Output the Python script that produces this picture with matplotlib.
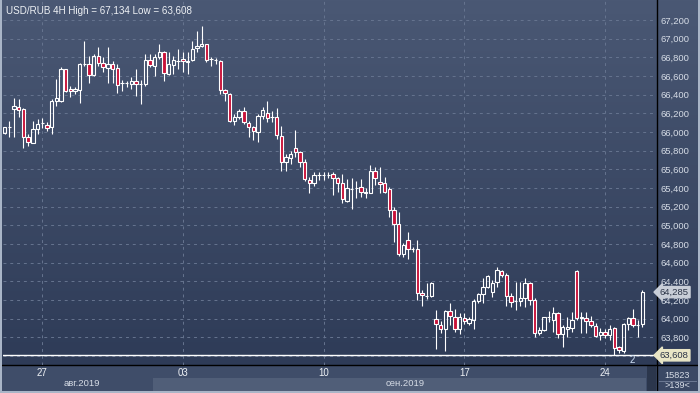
import numpy as np
import matplotlib
matplotlib.use("Agg")
import matplotlib.pyplot as plt
import matplotlib.colors as mcolors
import matplotlib.transforms as mtransforms
from matplotlib.patches import Rectangle
from matplotlib.ticker import FuncFormatter

# USD/RUB 4H candles
opens = [65993, 66050, 66243, 66265, 66247, 65943, 65882, 66032, 66093, 66075,
         66050, 66329, 66336, 66675, 66461, 66443, 66454, 66729, 66729, 66611,
         66818, 66740, 66686, 66729, 66686, 66522, 66525, 66515, 66550, 66515,
         66515, 66772, 66711, 66800, 66854, 66622, 66722, 66765, 66779, 66747,
         66772, 66900, 66922, 66943, 66779, 66768, 66765, 66450, 66407, 66122,
         66165, 66229, 66097, 66057, 65997, 66175, 66200, 66157, 66157, 65961,
         65675, 65722, 65825, 65782, 65682, 65486, 65454, 65543, 65543, 65543,
         65546, 65503, 65450, 65264, 65393, 65396, 65407, 65343, 65343, 65585,
         65460, 65450, 65385, 65164, 65010, 64689, 64843, 64743, 64743, 64271,
         64246, 64243, 63993, 63932, 63885, 64082, 64014, 63885, 64011, 63950,
         63985, 64189, 64260, 64335, 64289, 64389, 64511, 64464, 64243, 64193,
         64189, 64218, 64379, 64200, 63843, 63879, 64014, 63986, 64064, 63836,
         63886, 63897, 64514, 64004, 64011, 63975, 63922, 63825, 63861, 63825,
         63897, 63693, 63657, 63940, 64011, 63932, 63943]
highs = [66057, 66122, 66365, 66354, 66257, 65979, 66122, 66136, 66150, 66104,
         66354, 66568, 66700, 66675, 66497, 66486, 66736, 66979, 66818, 66836,
         66907, 66800, 66915, 66765, 66729, 66557, 66550, 66586, 66675, 66557,
         66836, 66836, 66836, 66943, 66872, 66854, 66818, 66890, 66854, 66854,
         66979, 67086, 67134, 66943, 66800, 66793, 66772, 66461, 66415, 66193,
         66247, 66265, 66122, 66068, 66193, 66272, 66329, 66229, 66257, 66068,
         65765, 65800, 66025, 65800, 65711, 65515, 65568, 65568, 65568, 65575,
         65575, 65521, 65550, 65493, 65503, 65478, 65493, 65396, 65646, 65621,
         65621, 65521, 65414, 65200, 65146, 64807, 64932, 64771, 64843, 64307,
         64378, 64396, 64093, 63978, 64093, 64171, 64100, 64057, 64057, 64021,
         64207, 64278, 64439, 64468, 64414, 64550, 64522, 64486, 64272, 64397,
         64397, 64432, 64397, 64218, 63907, 64022, 64086, 64129, 64075, 63932,
         64022, 64075, 64522, 64075, 64075, 64029, 63957, 63897, 63886, 63932,
         63907, 63707, 63950, 64022, 64100, 63986, 64307]
lows = [65979, 65943, 65943, 66157, 65829, 65854, 65879, 65979, 66043, 66015,
        65979, 66282, 66318, 66425, 66379, 66407, 66307, 66711, 66522, 66604,
        66711, 66640, 66522, 66522, 66415, 66443, 66479, 66461, 66390, 66300,
        66497, 66693, 66604, 66782, 66550, 66615, 66622, 66675, 66640, 66622,
        66757, 66854, 66907, 66747, 66711, 66729, 66407, 66336, 66104, 66079,
        66140, 66086, 65943, 65915, 65890, 66140, 66104, 66104, 65925, 65586,
        65586, 65657, 65729, 65622, 65479, 65343, 65425, 65486, 65486, 65507,
        65325, 65360, 65243, 65253, 65171, 65289, 65307, 65289, 65343, 65432,
        65343, 65343, 65085, 64825, 64671, 64664, 64635, 64718, 64200, 64139,
        64207, 64235, 63671, 63843, 63657, 63932, 63860, 63835, 63943, 63932,
        63889, 64164, 64164, 64325, 64235, 64343, 64450, 64136, 64129, 64093,
        64136, 64129, 64147, 63807, 63825, 63872, 63968, 63861, 63790, 63700,
        63807, 63861, 63986, 63843, 63843, 63907, 63800, 63772, 63790, 63772,
        63608, 63629, 63636, 63879, 63907, 63807, 63907]
closes = [66050, 66050, 66279, 66236, 65943, 65890, 66032, 66086, 66093, 66040,
          66336, 66361, 66675, 66443, 66436, 66461, 66729, 66729, 66615, 66818,
          66740, 66693, 66729, 66675, 66507, 66522, 66525, 66550, 66515, 66515,
          66772, 66722, 66807, 66854, 66629, 66729, 66772, 66765, 66757, 66765,
          66890, 66922, 66943, 66772, 66779, 66768, 66450, 66415, 66122, 66157,
          66229, 66104, 66057, 66007, 66175, 66236, 66150, 66157, 65972, 65682,
          65729, 65765, 65790, 65682, 65497, 65454, 65543, 65543, 65543, 65543,
          65503, 65450, 65278, 65396, 65393, 65396, 65357, 65357, 65585, 65503,
          65443, 65360, 65164, 65010, 64689, 64789, 64743, 64743, 64271, 64250,
          64246, 64378, 63939, 63885, 64082, 64028, 63885, 64014, 63978, 63993,
          64193, 64264, 64335, 64457, 64385, 64521, 64464, 64243, 64182, 64193,
          64218, 64379, 64200, 63843, 63879, 64014, 64014, 64057, 63836, 63907,
          63907, 63986, 64004, 64022, 63975, 63932, 63818, 63861, 63825, 63886,
          63682, 63665, 63940, 64004, 63932, 63932, 64285]

week_ticks = [8, 38, 68, 98, 128]
week_labels = ["27", "03", "10", "17", "24"]
month_labels = ["авг.2019", "сен.2019"]
price_ticks = list(range(63800, 67201, 200))   # 63,600 sits under the low tag
last_price = 64285
low_price = 63608
high_price = 67134
bars_total = 15823
bars_shown = 139

W, H = 700, 393
PLOT_BG_TOP = "#4a5874"
PLOT_BG_BOT = "#2c3955"
BEAR = "#c8123a"
GRID = "#66748f"
TXT = "#d6dce6"
FONT = "Liberation Sans"
sep_start = 31.6   # first bar of September

fig = plt.figure(figsize=(W / 100, H / 100), dpi=100)

# background layer in pixel coordinates (y up)
bg = fig.add_axes([0, 0, 1, 1], zorder=0)
bg.set_xlim(0, W)
bg.set_ylim(0, H)
bg.axis("off")
t = np.linspace(0, 1, 256)[:, None, None]
c_top = np.array(mcolors.to_rgb(PLOT_BG_TOP))
c_bot = np.array(mcolors.to_rgb(PLOT_BG_BOT))
bg.imshow(c_top * (1 - t) + c_bot * t, extent=[0, W, 0, H], aspect="auto", origin="upper")

# main price panel
ax = fig.add_axes([3 / W, 28 / H, 653 / W, 364 / H], zorder=1)
ax.set_facecolor("none")
n = len(opens)
x = np.arange(n)
o = np.array(opens, dtype=float)
h = np.array(highs, dtype=float)
l = np.array(lows, dtype=float)
c = np.array(closes, dtype=float)
up = c >= o
lo = np.minimum(o, c)
hi = np.maximum(o, c)

ax.vlines(x, hi, h, color="white", lw=0.8, zorder=3)
ax.vlines(x, l, lo, color="white", lw=0.8, zorder=3)
ax.bar(x[up], (hi - lo)[up], bottom=lo[up], width=0.72, facecolor="none",
       edgecolor="white", linewidth=0.8, zorder=4)
ax.bar(x[~up], (hi - lo)[~up], bottom=lo[~up], width=0.72, facecolor=BEAR,
       edgecolor="white", linewidth=0.8, zorder=4)

ax.axhline(low_price, color="white", lw=1.0, zorder=5)

ax.set_xlim(-0.36, 138.9)
ax.set_ylim(63504, 67404)
ax.set_yticks(price_ticks)
ax.yaxis.set_major_formatter(FuncFormatter(lambda v, p: f"{v:,.0f}"))
ax.yaxis.tick_right()
ax.set_xticks(week_ticks, week_labels)
ax.tick_params(axis="y", length=0, pad=3, labelsize=6.8, labelcolor=TXT)
ax.tick_params(axis="x", length=0, pad=2.5, labelsize=7, labelcolor="#eef1f5")
for lab in ax.get_xticklabels() + ax.get_yticklabels():
    lab.set_fontfamily(FONT)
ax.grid(True, color=GRID, linestyle=(0, (3, 4)), linewidth=0.7, zorder=1)
ax.axhline(63600, color=GRID, linestyle=(0, (3, 4)), linewidth=0.7, zorder=1)
for s in ax.spines.values():
    s.set_visible(False)

ax.text(0.004, 0.972, f"USD/RUB 4H High = {high_price:,} Low = {low_price:,}",
        transform=ax.transAxes, fontsize=7.1, color="#eef1f5", family=FONT,
        va="center", ha="left", zorder=6)
ax.text(133.8, 63560, "2", fontsize=7, color="#cfe0f5", family=FONT,
        va="center", ha="center", zorder=6)

# price tags on the right axis
tag_tr = mtransforms.blended_transform_factory(ax.transAxes, ax.transData)
ax.text(1.006, last_price, f"{last_price:,}", transform=tag_tr, fontsize=6.8,
        family=FONT, color="#2a3346", va="center", ha="left", zorder=7, clip_on=False,
        bbox=dict(boxstyle="larrow,pad=0.12", fc="#c9ced8", ec="#c9ced8"))
ax.text(1.006, low_price, f"{low_price:,}", transform=tag_tr, fontsize=6.8,
        family=FONT, color="#2a3346", va="center", ha="left", zorder=7, clip_on=False,
        bbox=dict(boxstyle="larrow,pad=0.12", fc="#e9e6c6", ec="#e9e6c6"))

# bottom date strip
bg.add_patch(Rectangle((0, 0), W, 28, fc="#3f4d69", ec="none", zorder=2))
mtr = mtransforms.blended_transform_factory(ax.transData, bg.transData)
bg.add_patch(Rectangle((sep_start, 2), n - 0.2 - sep_start, 13, transform=mtr,
                       fc="#505e78", ec="none", zorder=3))
bg.add_patch(Rectangle((647, 2), 9, 26, fc="#2b364c", ec="none", zorder=3))
bg.add_patch(Rectangle((657, 2), 41, 26, fc="#3a4864", ec="none", zorder=3))
bg.text(16.5, 9.5, month_labels[0], transform=mtr, fontsize=6.8, family=FONT,
        color=TXT, ha="center", va="center", zorder=4)
bg.text(85.4, 9.5, month_labels[1], transform=mtr, fontsize=6.8, family=FONT,
        color=TXT, ha="center", va="center", zorder=4)
bg.text(677, 17, str(bars_total), fontsize=6.6, family=FONT, color=TXT,
        ha="center", va="center", zorder=4)
bg.text(677, 7.5, f">{bars_shown}<", fontsize=6.6, family=FONT, color=TXT,
        ha="center", va="center", zorder=4)
bg.plot([659, 696], [12, 12], color="#6c7993", lw=0.7, zorder=4)

# separators and frame
bg.plot([656.5, 656.5], [0, H], color="black", lw=1.0, zorder=5)
bg.plot([0, W], [28, 28], color="black", lw=1.0, zorder=5)
bg.add_patch(Rectangle((0, 0), 2, H, fc="#a9b5c7", ec="none", zorder=6))
bg.add_patch(Rectangle((W - 2, 0), 2, H, fc="#a9b5c7", ec="none", zorder=6))
bg.add_patch(Rectangle((0, 0), W, 2, fc="#a9b5c7", ec="none", zorder=6))

fig.savefig("out.png", dpi=100)
